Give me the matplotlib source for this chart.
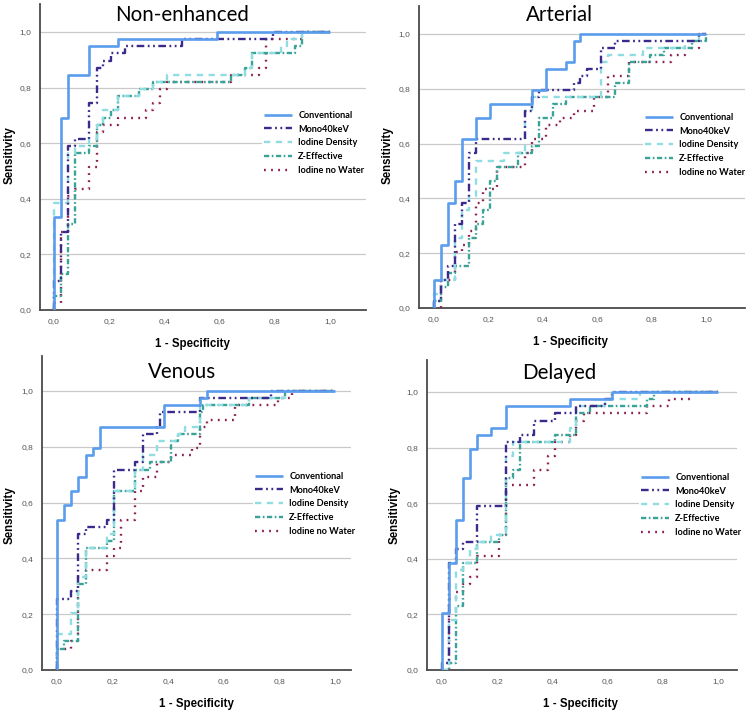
import matplotlib
matplotlib.use("Agg")
import matplotlib.pyplot as plt

plt.rcParams['lines.scale_dashes'] = False

# ---------------- data (FPR where TPR rises, TPR reached) ----------------
series_names = ["Conventional", "Mono40keV", "Iodine Density", "Z-Effective", "Iodine no Water"]
panel_titles = ["Non-enhanced", "Arterial", "Venous", "Delayed"]
tick_values = [0.0, 0.2, 0.4, 0.6, 0.8, 1.0]
tick_labels = ["0,0", "0,2", "0,4", "0,6", "0,8", "1,0"]

# Non-enhanced
ne_conv_fpr = [0, 0, 0.026, 0.051, 0.128, 0.231, 0.590, 1.0]
ne_conv_tpr = [0, 0.333, 0.692, 0.846, 0.949, 0.974, 1.0, 1.0]
ne_mono_fpr = [0, 0, 0.026, 0.051, 0.077, 0.128, 0.154, 0.179, 0.205, 0.256, 0.462, 0.795, 1.0]
ne_mono_tpr = [0, 0.103, 0.282, 0.590, 0.615, 0.744, 0.872, 0.897, 0.923, 0.949, 0.974, 1.0, 1.0]
ne_iod_fpr = [0, 0, 0.051, 0.077, 0.128, 0.154, 0.179, 0.231, 0.308, 0.359, 0.410, 0.692, 0.718, 0.821, 0.846, 0.897, 1.0]
ne_iod_tpr = [0, 0.385, 0.564, 0.590, 0.615, 0.667, 0.718, 0.769, 0.795, 0.821, 0.846, 0.872, 0.923, 0.949, 0.974, 1.0, 1.0]
ne_z_fpr = [0, 0, 0.026, 0.051, 0.077, 0.128, 0.154, 0.179, 0.205, 0.231, 0.308, 0.359, 0.641, 0.692, 0.718, 0.872, 0.897, 1.0]
ne_z_tpr = [0, 0.051, 0.128, 0.308, 0.564, 0.590, 0.667, 0.692, 0.718, 0.769, 0.795, 0.821, 0.846, 0.872, 0.923, 0.949, 1.0, 1.0]
ne_inw_fpr = [0, 0, 0.026, 0.051, 0.077, 0.128, 0.154, 0.179, 0.231, 0.333, 0.359, 0.385, 0.410, 0.641, 0.744, 0.769, 0.897, 1.0]
ne_inw_tpr = [0, 0.026, 0.282, 0.410, 0.436, 0.513, 0.641, 0.667, 0.692, 0.718, 0.744, 0.795, 0.821, 0.846, 0.872, 0.974, 1.0, 1.0]

# Arterial
ar_conv_fpr = [0, 0, 0.026, 0.051, 0.077, 0.103, 0.154, 0.205, 0.359, 0.410, 0.487, 0.513, 0.538, 1.0]
ar_conv_tpr = [0, 0.103, 0.231, 0.385, 0.462, 0.615, 0.692, 0.744, 0.795, 0.872, 0.897, 0.974, 1.0, 1.0]
ar_mono_fpr = [0, 0, 0.026, 0.051, 0.077, 0.103, 0.128, 0.154, 0.333, 0.359, 0.385, 0.513, 0.538, 0.564, 0.615, 0.667, 0.974, 1.0]
ar_mono_tpr = [0, 0.026, 0.103, 0.154, 0.308, 0.385, 0.564, 0.615, 0.718, 0.769, 0.795, 0.821, 0.846, 0.872, 0.949, 0.974, 1.0, 1.0]
ar_iod_fpr = [0, 0, 0.026, 0.077, 0.103, 0.128, 0.154, 0.256, 0.333, 0.359, 0.615, 0.641, 0.769, 0.923, 0.974, 1.0]
ar_iod_tpr = [0, 0.051, 0.103, 0.256, 0.359, 0.410, 0.538, 0.564, 0.718, 0.769, 0.897, 0.923, 0.949, 0.974, 1.0, 1.0]
ar_z_fpr = [0, 0, 0.026, 0.051, 0.077, 0.128, 0.154, 0.179, 0.205, 0.231, 0.308, 0.359, 0.385, 0.436, 0.487, 0.667, 0.718, 0.795, 0.846, 0.949, 1.0]
ar_z_tpr = [0, 0.026, 0.077, 0.128, 0.154, 0.256, 0.308, 0.359, 0.462, 0.513, 0.564, 0.590, 0.692, 0.744, 0.769, 0.821, 0.897, 0.923, 0.949, 0.974, 1.0]
ar_inw_fpr = [0, 0.026, 0.077, 0.103, 0.128, 0.154, 0.179, 0.231, 0.333, 0.359, 0.410, 0.462, 0.513, 0.590, 0.641, 0.718, 0.872, 0.923, 0.974, 1.0]
ar_inw_tpr = [0, 0.103, 0.205, 0.231, 0.282, 0.385, 0.436, 0.513, 0.564, 0.615, 0.667, 0.692, 0.718, 0.769, 0.846, 0.897, 0.923, 0.949, 1.0, 1.0]

# Venous
ve_conv_fpr = [0, 0, 0.026, 0.051, 0.077, 0.103, 0.128, 0.154, 0.385, 0.513, 0.538, 1.0]
ve_conv_tpr = [0, 0.538, 0.590, 0.641, 0.692, 0.769, 0.795, 0.872, 0.949, 0.974, 1.0, 1.0]
ve_mono_fpr = [0, 0, 0.051, 0.077, 0.103, 0.179, 0.205, 0.282, 0.308, 0.359, 0.372, 0.513, 0.769, 1.0]
ve_mono_tpr = [0, 0.256, 0.282, 0.487, 0.513, 0.538, 0.718, 0.744, 0.846, 0.872, 0.923, 0.974, 1.0, 1.0]
ve_iod_fpr = [0, 0, 0.051, 0.077, 0.103, 0.179, 0.205, 0.282, 0.308, 0.359, 0.436, 0.462, 0.513, 0.692, 0.821, 1.0]
ve_iod_tpr = [0, 0.128, 0.205, 0.333, 0.436, 0.487, 0.641, 0.718, 0.769, 0.821, 0.846, 0.872, 0.949, 0.974, 1.0, 1.0]
ve_z_fpr = [0, 0, 0.026, 0.077, 0.103, 0.179, 0.205, 0.282, 0.333, 0.410, 0.436, 0.513, 0.526, 0.692, 0.821, 1.0]
ve_z_tpr = [0, 0.077, 0.103, 0.308, 0.436, 0.462, 0.641, 0.718, 0.744, 0.821, 0.846, 0.923, 0.949, 0.974, 1.0, 1.0]
ve_inw_fpr = [0, 0, 0.051, 0.077, 0.103, 0.179, 0.205, 0.231, 0.282, 0.308, 0.359, 0.410, 0.487, 0.513, 0.538, 0.641, 0.795, 0.846, 1.0]
ve_inw_tpr = [0, 0.077, 0.103, 0.333, 0.359, 0.410, 0.436, 0.538, 0.641, 0.692, 0.744, 0.769, 0.795, 0.872, 0.897, 0.949, 0.974, 1.0, 1.0]

# Delayed
de_conv_fpr = [0, 0, 0.026, 0.051, 0.077, 0.103, 0.128, 0.179, 0.231, 0.462, 0.615, 1.0]
de_conv_tpr = [0, 0.205, 0.385, 0.538, 0.692, 0.795, 0.846, 0.872, 0.949, 0.974, 1.0, 1.0]
de_mono_fpr = [0, 0, 0.026, 0.051, 0.077, 0.128, 0.231, 0.282, 0.333, 0.410, 0.487, 0.590, 0.615, 1.0]
de_mono_tpr = [0, 0.026, 0.385, 0.436, 0.462, 0.590, 0.821, 0.846, 0.897, 0.923, 0.949, 0.974, 1.0, 1.0]
de_iod_fpr = [0, 0.026, 0.051, 0.077, 0.103, 0.128, 0.179, 0.231, 0.256, 0.462, 0.487, 0.590, 0.718, 1.0]
de_iod_tpr = [0, 0.179, 0.359, 0.385, 0.436, 0.462, 0.487, 0.769, 0.821, 0.872, 0.949, 0.974, 1.0, 1.0]
de_z_fpr = [0, 0.026, 0.051, 0.077, 0.128, 0.205, 0.231, 0.256, 0.282, 0.410, 0.487, 0.538, 0.744, 0.769, 1.0]
de_z_tpr = [0, 0.026, 0.231, 0.385, 0.462, 0.487, 0.692, 0.718, 0.821, 0.846, 0.923, 0.949, 0.974, 1.0, 1.0]
de_inw_fpr = [0, 0.026, 0.051, 0.077, 0.103, 0.128, 0.205, 0.231, 0.333, 0.385, 0.410, 0.462, 0.487, 0.513, 0.744, 0.821, 0.897, 1.0]
de_inw_tpr = [0, 0.256, 0.282, 0.308, 0.333, 0.410, 0.487, 0.667, 0.718, 0.769, 0.821, 0.846, 0.897, 0.923, 0.949, 0.974, 1.0, 1.0]

panel_data = [
    [(ne_conv_fpr, ne_conv_tpr), (ne_mono_fpr, ne_mono_tpr), (ne_iod_fpr, ne_iod_tpr), (ne_z_fpr, ne_z_tpr), (ne_inw_fpr, ne_inw_tpr)],
    [(ar_conv_fpr, ar_conv_tpr), (ar_mono_fpr, ar_mono_tpr), (ar_iod_fpr, ar_iod_tpr), (ar_z_fpr, ar_z_tpr), (ar_inw_fpr, ar_inw_tpr)],
    [(ve_conv_fpr, ve_conv_tpr), (ve_mono_fpr, ve_mono_tpr), (ve_iod_fpr, ve_iod_tpr), (ve_z_fpr, ve_z_tpr), (ve_inw_fpr, ve_inw_tpr)],
    [(de_conv_fpr, de_conv_tpr), (de_mono_fpr, de_mono_tpr), (de_iod_fpr, de_iod_tpr), (de_z_fpr, de_z_tpr), (de_inw_fpr, de_inw_tpr)],
]

# ---------------- styles ----------------
colors = ["#5b9ded", "#3b2a8c", "#8fdde2", "#3aa397", "#8c1f4f"]
styles = ["-", (0, (5.5, 2.5, 1.3, 2.5, 1.3, 2.5)), (0, (4.5, 4.0)),
          (0, (3.8, 1.8, 1.2, 1.8)), (0, (1.3, 3.8))]
widths = [1.9, 1.7, 1.7, 1.7, 1.7]

W, H = 748, 711
fig = plt.figure(figsize=(W / 100, H / 100), dpi=100)

# pixel layout per panel: x0px, x1px (data 0 and 1), left px, right px, y0px, y1px (data 0 and 1), top px
layout = [
    (54, 330, 40, 366, 310, 32, 4),
    (434, 706, 419, 745, 308, 34, 6),
    (57, 335, 42, 351, 670, 391, 356),
    (442, 718, 427, 737, 670, 392, 360),
]
title_pos = [(182, 15), (559, 15), (182, 372), (559, 373)]
legend_pos = [(262, 109), (643, 111), (253, 470), (639, 471)]
ylabel_pos = [(10, 155), (388, 155), (10, 515), (395, 515)]

for k, (x0, x1, lpx, rpx, y0, y1, tpx) in enumerate(layout):
    sx = x1 - x0
    sy = y0 - y1
    xmin = (lpx - x0) / sx
    xmax = (rpx - x0) / sx
    ymax = (y0 - tpx) / sy
    axw = rpx - lpx
    axh = y0 - tpx
    ax = fig.add_axes([lpx / W, 1 - y0 / H, axw / W, axh / H])
    ax.set_xlim(xmin, xmax)
    ax.set_ylim(0, ymax)
    for s in ["top", "right"]:
        ax.spines[s].set_visible(False)
    for s in ["left", "bottom"]:
        ax.spines[s].set_color("#4a4a4a")
        ax.spines[s].set_linewidth(1.3)
    for v in tick_values[1:]:
        ax.axhline(v, color="#c9c9c9", lw=0.9, zorder=0)
    ax.set_xticks(tick_values)
    ax.set_xticklabels(tick_labels)
    ax.set_yticks(tick_values)
    ax.set_yticklabels(tick_labels)
    ax.tick_params(length=0, labelsize=6, labelcolor="#555555", pad=6)
    ax.set_xlabel("1 - Specificity", fontsize=8.3, fontweight="bold",
                  family="Liberation Sans")
    ax.set_ylabel("Sensitivity", fontsize=8.3, fontweight="bold",
                  family="Liberation Sans", va="center")
    ax.xaxis.set_label_coords((0.5 - xmin) / (xmax - xmin), -28 / axh)
    ylx, yly = ylabel_pos[k]
    ax.yaxis.set_label_coords((ylx - lpx) / axw, (y0 - yly) / axh)
    for lab in ax.get_xticklabels() + ax.get_yticklabels():
        lab.set_family("Liberation Sans")

    handles = []
    for i in reversed(range(5)):
        fpr, tpr = panel_data[k][i]
        (ln,) = ax.step(fpr, tpr, where="post", color=colors[i], linestyle=styles[i],
                        lw=widths[i], label=series_names[i], zorder=3 + (5 - i),
                        solid_capstyle="butt", dash_capstyle="butt")
        handles.insert(0, ln)

    lx, ly = legend_pos[k]
    leg = ax.legend(handles=handles, loc="upper left", bbox_to_anchor=(lx / W, 1 - ly / H),
                    bbox_transform=fig.transFigure, frameon=True, fancybox=False,
                    edgecolor="none", facecolor="white", framealpha=1.0,
                    prop={"family": "Lato", "weight": "bold", "size": 6.6},
                    handlelength=3.1, handletextpad=0.65, labelspacing=0.52,
                    borderpad=0.2, borderaxespad=0)
    leg.set_zorder(20)

    tx, ty = title_pos[k]
    fig.text(tx / W, 1 - ty / H, panel_titles[k], ha="center", va="center",
             fontsize=14.8, family="Lato")

fig.savefig("out.png", dpi=100)
